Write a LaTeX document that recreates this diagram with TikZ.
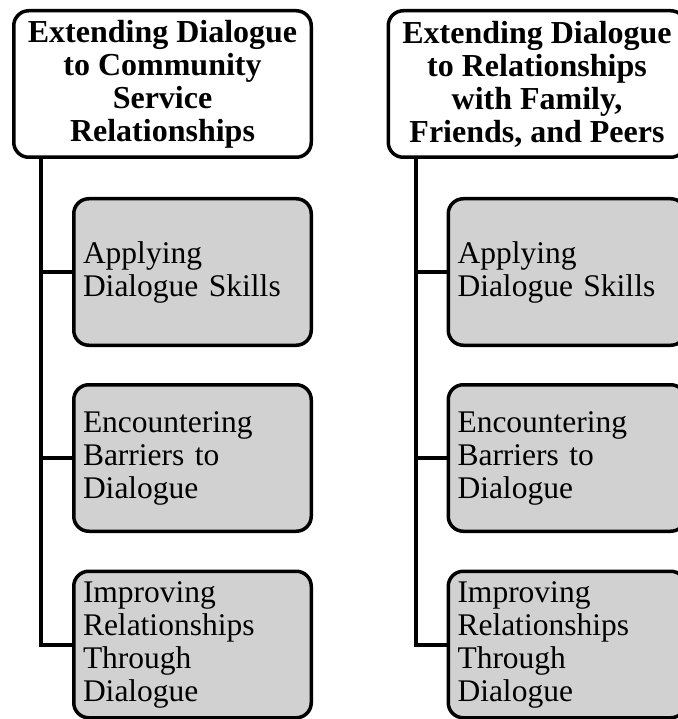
\documentclass[tikz,border=0pt]{standalone}
\usepackage{fontspec}
\setmainfont{Liberation Serif}
\definecolor{boxgray}{RGB}{209,209,209}

\begin{document}
\begin{tikzpicture}[x=1pt,y=-1pt,
	head/.style={rectangle, draw, rounded corners=15pt, line width=3.5pt, fill=white, minimum width=297.5pt, minimum height=146.5pt, align=center, font=\fontsize{32}{33}\selectfont\bfseries},
	topic/.style={rectangle, draw, rounded corners=15pt, line width=3.5pt, fill=boxgray, minimum width=237.5pt, minimum height=146.5pt, text width=219pt, inner xsep=9pt, align=left, font=\fontsize{31.5}{33}\selectfont},
	link/.style={line width=4pt}]

	\useasboundingbox (0,0) rectangle (677,719);

	\node (hc) [head] at (162.5, 84) {Extending Dialogue\\to Community\\Service\\Relationships};
	\node (hf) [head] at (537, 84) {Extending Dialogue\\to Relationships\\with Family,\\Friends, and Peers};

	\node (c1) [topic] at (192.5, 272) {Applying\\Dialogue Skills};
	\node (c2) [topic] at (192.5, 458) {Encountering\\Barriers to\\Dialogue};
	\node (c3) [topic] at (192.5, 644.5) {Improving\\Relationships\\Through\\Dialogue};

	\node (f1) [topic] at (567, 272) {Applying\\Dialogue Skills};
	\node (f2) [topic] at (567, 458) {Encountering\\Barriers to\\Dialogue};
	\node (f3) [topic] at (567, 644.5) {Improving\\Relationships\\Through\\Dialogue};

	\draw[link] ([xshift=29pt]hc.south west) |- (c1.west);
	\draw[link] ([xshift=29pt]hc.south west) |- (c2.west);
	\draw[link] ([xshift=29pt]hc.south west) |- (c3.west);
	\draw[link] ([xshift=29pt]hf.south west) |- (f1.west);
	\draw[link] ([xshift=29pt]hf.south west) |- (f2.west);
	\draw[link] ([xshift=29pt]hf.south west) |- (f3.west);

\end{tikzpicture}
\end{document}
